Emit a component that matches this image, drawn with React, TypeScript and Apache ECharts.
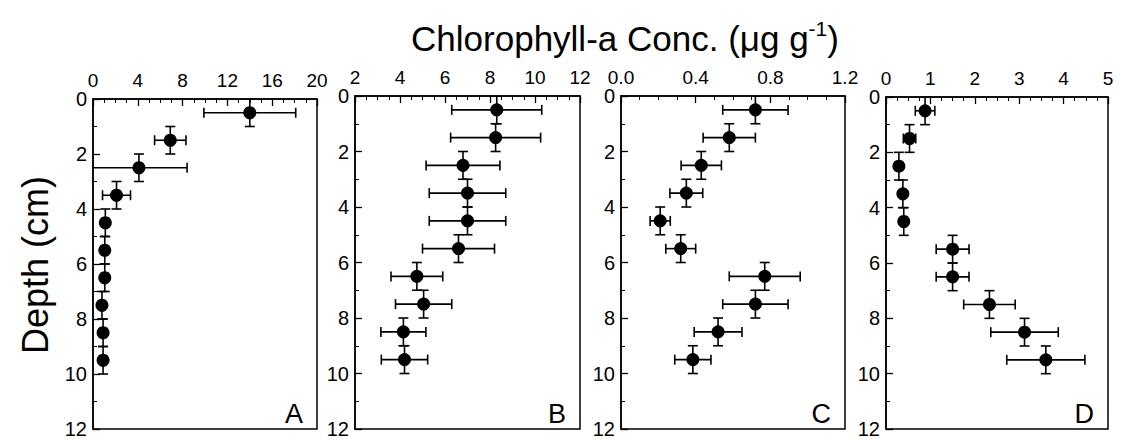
import React, { useEffect, useRef } from "react";
import * as echarts from "echarts";

const depth = [0.5, 1.5, 2.5, 3.5, 4.5, 5.5, 6.5, 7.5, 8.5, 9.5];
const depthErr = [0.5, 0.5, 0.5, 0.5, 0.5, 0.5, 0.5, 0.5, 0.5, 0.5];

const chlA = [14.0, 6.9, 4.1, 2.1, 1.1, 1.05, 1.05, 0.8, 0.9, 0.9];
const errA = [4.1, 1.4, 4.3, 1.25, 0.3, 0.3, 0.3, 0.3, 0.3, 0.3];
const chlB = [8.3, 8.25, 6.8, 7.0, 7.0, 6.6, 4.75, 5.05, 4.15, 4.2];
const errB = [2.0, 2.0, 1.64, 1.7, 1.7, 1.6, 1.15, 1.25, 1.0, 1.03];
const chlC = [0.72, 0.58, 0.43, 0.35, 0.21, 0.32, 0.77, 0.72, 0.52, 0.385];
const errC = [0.175, 0.14, 0.108, 0.088, 0.054, 0.08, 0.19, 0.175, 0.128, 0.097];
const chlD = [0.88, 0.53, 0.29, 0.38, 0.4, 1.5, 1.5, 2.33, 3.12, 3.6];
const errD = [0.22, 0.14, 0.08, 0.07, 0.07, 0.37, 0.37, 0.58, 0.76, 0.88];

const panelLetters = ["A", "B", "C", "D"];
const xMins = [0, 2, 0, 0];
const xMaxs = [20, 12, 1.2, 5];
const xIntervals = [4, 2, 0.4, 1];
const xDecimals = [0, 0, 1, 0];
const yTicks = { min: 0, max: 12, interval: 2 };

const titleText = "Chlorophyll-a Conc. (μg g";
const titleSup = "-1";
const yTitle = "Depth (cm)";

const FONT = "'Liberation Sans', Arial, sans-serif";

const grids = [
  { left: 93, top: 99, width: 224, height: 331 },
  { left: 355, top: 96, width: 225, height: 334 },
  { left: 621, top: 96, width: 224, height: 334 },
  { left: 886, top: 97, width: 222, height: 333 },
];

export default function App() {
  const ref = useRef<HTMLDivElement>(null);
  useEffect(() => {
    document.body.style.margin = "0";
    const chart = echarts.init(ref.current!, null, { renderer: "svg" });
    const values = [chlA, chlB, chlC, chlD];
    const errs = [errA, errB, errC, errD];

    const xAxis = grids.map((_, i) => ({
      type: "value",
      gridIndex: i,
      position: "top",
      min: xMins[i],
      max: xMaxs[i],
      interval: xIntervals[i],
      axisLine: { show: true, lineStyle: { color: "#000", width: 1.5 } },
      axisTick: { show: true, inside: true, length: 7, lineStyle: { color: "#000", width: 1.3 } },
      minorTick: { show: true, splitNumber: 4, length: 4, lineStyle: { color: "#000", width: 1 } },
      splitLine: { show: false },
      axisLabel: {
        color: "#000",
        fontSize: 19,
        fontFamily: FONT,
        margin: 9,
        formatter: (v: number) => v.toFixed(xDecimals[i]),
      },
    }));

    const yAxis = grids.map((_, i) => ({
      type: "value",
      gridIndex: i,
      inverse: true,
      min: yTicks.min,
      max: yTicks.max,
      interval: yTicks.interval,
      axisLine: { show: true, lineStyle: { color: "#000", width: 1.5 } },
      axisTick: { show: true, inside: true, length: 7, lineStyle: { color: "#000", width: 1.3 } },
      minorTick: { show: true, splitNumber: 2, length: 4, lineStyle: { color: "#000", width: 1 } },
      splitLine: { show: false },
      axisLabel: { color: "#000", fontSize: 20, fontFamily: FONT, margin: 6 },
    }));

    const series: any[] = [];
    grids.forEach((_, i) => {
      const data = depth.map((d, k) => [values[i][k], d, errs[i][k], depthErr[k]]);
      series.push({
        type: "custom",
        xAxisIndex: i,
        yAxisIndex: i,
        clip: true,
        data,
        encode: { x: 0, y: 1 },
        renderItem: (params: any, api: any) => {
          const x = api.value(0);
          const y = api.value(1);
          const xe = api.value(2);
          const ye = api.value(3);
          const l = api.coord([x - xe, y]);
          const r = api.coord([x + xe, y]);
          const t = api.coord([x, y - ye]);
          const b = api.coord([x, y + ye]);
          const c = 5;
          const ln = (x1: number, y1: number, x2: number, y2: number) => ({
            type: "line",
            shape: { x1, y1, x2, y2 },
            style: { stroke: "#000", lineWidth: 1.6 },
          });
          return {
            type: "group",
            children: [
              ln(l[0], l[1], r[0], r[1]),
              ln(l[0], l[1] - c, l[0], l[1] + c),
              ln(r[0], r[1] - c, r[0], r[1] + c),
              ln(t[0], t[1], b[0], b[1]),
              ln(t[0] - c, t[1], t[0] + c, t[1]),
              ln(b[0] - c, b[1], b[0] + c, b[1]),
            ],
          };
        },
      });
      series.push({
        type: "scatter",
        xAxisIndex: i,
        yAxisIndex: i,
        symbol: "circle",
        symbolSize: 13,
        itemStyle: { color: "#000", opacity: 1 },
        data: depth.map((d, k) => [values[i][k], d]),
        z: 5,
      });
    });

    const graphic: any[] = [
      {
        type: "text",
        x: 625,
        y: 38,
        style: {
          text: `{n|${titleText}}{s|${titleSup}}{n|)}`,
          textAlign: "center",
          textVerticalAlign: "middle",
          fill: "#000",
          rich: {
            n: { fontSize: 35, fontFamily: FONT, fill: "#000", fontWeight: "normal", lineHeight: 40 },
            s: { fontSize: 21, fontFamily: FONT, fill: "#000", fontWeight: "normal", verticalAlign: "top" },
          },
        },
      },
      {
        type: "text",
        x: 35,
        y: 265,
        rotation: Math.PI / 2,
        style: {
          text: yTitle,
          fontSize: 36,
          fontFamily: FONT,
          fill: "#000",
          textAlign: "center",
          textVerticalAlign: "middle",
        },
      },
    ];
    grids.forEach((g, i) => {
      graphic.push({
        type: "text",
        x: g.left + g.width - 14,
        y: g.top + g.height - 3,
        style: {
          text: panelLetters[i],
          fontSize: 27,
          fontFamily: FONT,
          fill: "#000",
          textAlign: "right",
          textVerticalAlign: "bottom",
        },
      });
    });

    chart.setOption({
      animation: false,
      grid: grids.map((g) => ({
        ...g,
        show: true,
        borderColor: "#000",
        borderWidth: 1.5,
      })),
      xAxis,
      yAxis,
      series,
      graphic,
    });
    return () => chart.dispose();
  }, []);
  return <div ref={ref} style={{ width: 1125, height: 439 }} />;
}
